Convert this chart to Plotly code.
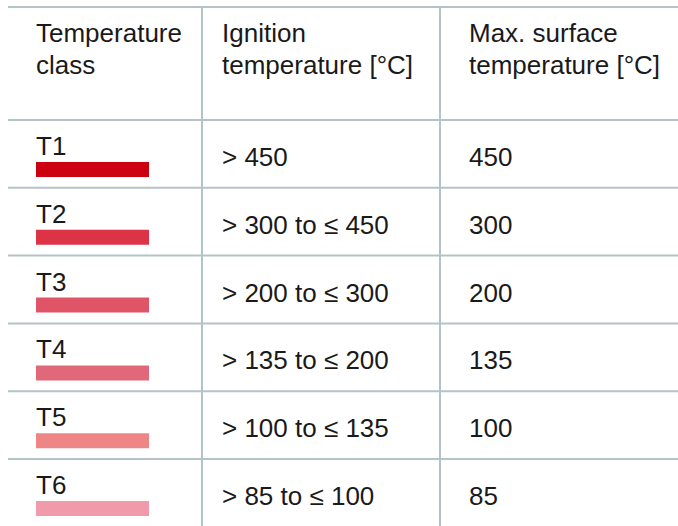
import plotly.graph_objects as go

# ---- data ----
header_class = ["Temperature", "class"]
header_ignition = ["Ignition", "temperature [°C]"]
header_surface = ["Max. surface", "temperature [°C]"]
classes = ["T1", "T2", "T3", "T4", "T5", "T6"]
ignition = ["> 450", "> 300 to ≤ 450", "> 200 to ≤ 300", "> 135 to ≤ 200",
            "> 100 to ≤ 135", "> 85 to ≤ 100"]
max_surface = ["450", "300", "200", "135", "100", "85"]
class_colors = ["#cc0011", "#dc3346", "#e05468", "#e06878", "#ee8686", "#f09aaa"]

# ---- layout constants ----
W, H = 678, 526
LINE = "#b4c3c8"
FONT = dict(family="Liberation Sans, Arial, sans-serif", size=26, color="#1a1a1a")
col_x = [34, 220, 467]
row_top0, row_h = 120, 67.8
vlines = [202, 440]

fig = go.Figure()
shapes = []
annotations = []

# horizontal grid lines
ys = [7] + [row_top0 + i * row_h for i in range(len(classes))]
for y in ys:
    shapes.append(dict(type="line", xref="x", yref="y", x0=8, x1=W, y0=y, y1=y,
                       line=dict(color=LINE, width=2)))
for x in vlines:
    shapes.append(dict(type="line", xref="x", yref="y", x0=x, x1=x, y0=7, y1=H,
                       line=dict(color=LINE, width=2)))

# header
for cx, lines in zip(col_x, [header_class, header_ignition, header_surface]):
    for j, t in enumerate(lines):
        annotations.append(dict(x=cx, y=33 + j * 32, xref="x", yref="y", text=t,
                                showarrow=False, xanchor="left", yanchor="middle",
                                font=FONT))

# rows
for i, (c, ig, ms, col) in enumerate(zip(classes, ignition, max_surface, class_colors)):
    top = row_top0 + i * row_h
    annotations.append(dict(x=col_x[0], y=top + 26, xref="x", yref="y", text=c,
                            showarrow=False, xanchor="left", yanchor="middle", font=FONT))
    shapes.append(dict(type="rect", xref="x", yref="y", x0=36, x1=149,
                       y0=top + 42, y1=top + 57, fillcolor=col, line=dict(width=0)))
    annotations.append(dict(x=col_x[1], y=top + 37, xref="x", yref="y", text=ig,
                            showarrow=False, xanchor="left", yanchor="middle", font=FONT))
    annotations.append(dict(x=col_x[2], y=top + 37, xref="x", yref="y", text=ms,
                            showarrow=False, xanchor="left", yanchor="middle", font=FONT))

fig.update_layout(
    width=W, height=H,
    margin=dict(l=0, r=0, t=0, b=0),
    paper_bgcolor="white", plot_bgcolor="white",
    xaxis=dict(range=[0, W], visible=False, fixedrange=True),
    yaxis=dict(range=[H, 0], visible=False, fixedrange=True),
    shapes=shapes, annotations=annotations, showlegend=False,
)
fig.write_html("out.html", config={"displayModeBar": False},
               post_script="document.body.style.margin='0';document.body.style.overflow='hidden';")
